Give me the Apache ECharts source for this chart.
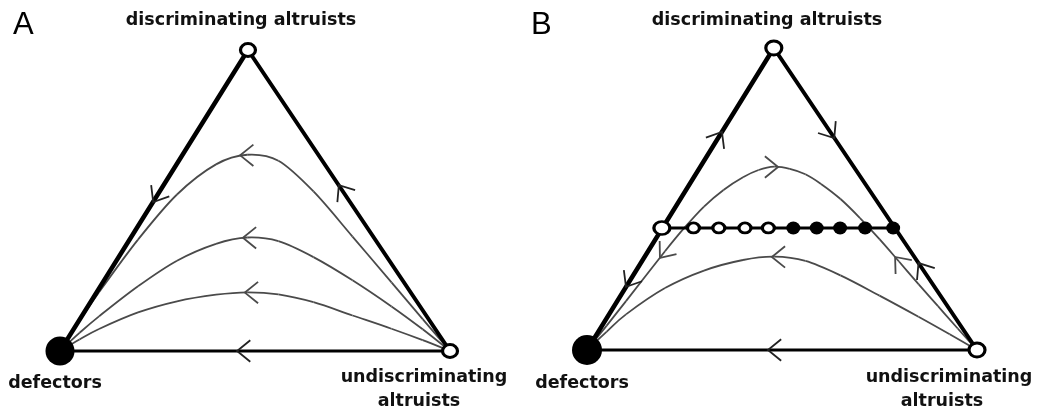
<!DOCTYPE html>
<html><head><meta charset="utf-8">
<script src="https://cdn.jsdelivr.net/npm/echarts@6/dist/echarts.min.js"></script>
<style>html,body{margin:0;padding:0;background:#fff}#c{width:1038px;height:411px}</style>
</head><body><div id="c"></div>
<script>
// ---------------- data (simplex coordinates: x across base, y = height) ----------------
const panelLetters = ['A', 'B'];
const topLabel = 'discriminating altruists';
const leftLabel = 'defectors';
const rightLabelLines = ['undiscriminating', 'altruists'];

const defectorsPt = [0, 0];
const undiscPt = [1, 0];
const apexA = [0.482, 1];
const apexB = [0.479, 1];

// Panel A trajectories (from defectors corner to undiscriminating corner)
const curveA1 = [[0,0],[0.05,0.10],[0.1,0.195],[0.2,0.37],[0.3,0.52],[0.4,0.62],[0.48,0.652],[0.56,0.632],[0.65,0.53],[0.75,0.38],[0.85,0.228],[0.93,0.106],[1,0]];
const curveA2 = [[0,0],[0.05,0.06],[0.1,0.115],[0.2,0.215],[0.3,0.30],[0.4,0.356],[0.48,0.377],[0.56,0.365],[0.65,0.312],[0.75,0.235],[0.85,0.148],[0.93,0.072],[1,0]];
const curveA3 = [[0,0],[0.05,0.038],[0.1,0.073],[0.2,0.128],[0.3,0.165],[0.4,0.187],[0.48,0.195],[0.56,0.188],[0.65,0.162],[0.75,0.118],[0.85,0.074],[0.93,0.036],[1,0]];

// Panel B trajectories
const curveB1 = [[0,0],[0.05,0.08],[0.1,0.162],[0.2,0.327],[0.25,0.405],[0.3,0.475],[0.35,0.53],[0.4,0.572],[0.44,0.596],[0.48,0.607],[0.52,0.600],[0.56,0.582],[0.6,0.55],[0.65,0.5],[0.7,0.437],[0.75,0.367],[0.8,0.293],[0.85,0.218],[0.9,0.145],[0.95,0.072],[1,0]];
const curveB2 = [[0,0],[0.05,0.06],[0.1,0.118],[0.2,0.205],[0.3,0.263],[0.4,0.298],[0.48,0.309],[0.56,0.295],[0.65,0.247],[0.75,0.18],[0.85,0.11],[0.93,0.052],[1,0]];

// Panel B line of rest points
const restLevel = 0.404;
const restLineX = [0.1935, 0.7895];
const restOpenX = [0.192, 0.273, 0.338, 0.405, 0.465];
const restFilledX = [0.529, 0.589, 0.649, 0.713, 0.785];

// Arrows: [tipX, tipY, towardX, towardY]
const arrowsACurves = [[0.462,0.650,0.3,0.650],[0.469,0.376,0.3,0.376],[0.474,0.194,0.3,0.194]];
const arrowsAEdges = [[0.454,0,0,0],[0.239,0.495,0,0],[0.715,0.551,0.482,1]];
const arrowsBCurves = [[0.490,0.606,0.7,0.606],[0.187,0.305,0.110,0.178],[0.790,0.308,0.721,0.412],[0.474,0.308,0.3,0.308]];
const arrowsBEdges = [[0.464,0,0,0],[0.346,0.722,0.479,1],[0.634,0.702,1,0],[0.100,0.209,0,0],[0.850,0.288,0.479,1]];

// ---------------- chart ----------------
const chart = echarts.init(document.getElementById('c'), null, {renderer: 'canvas'});

function edge(gi, a, b, w) {
  return {type: 'line', xAxisIndex: gi, yAxisIndex: gi, data: [a, b], symbol: 'none', clip: false,
    silent: true, z: 3, lineStyle: {color: '#000', width: w, cap: 'round'}};
}
// smooth trajectory through the read points (Catmull-Rom -> cubic Bezier, in pixel space)
function curve(gi, pts) {
  return {type: 'custom', xAxisIndex: gi, yAxisIndex: gi, data: pts, clip: false, silent: true, z: 2,
    renderItem: function (params, api) {
      if (params.dataIndex !== 0) return null;
      const P = pts.map(p => api.coord(p));
      const kids = [];
      for (let i = 0; i < P.length - 1; i++) {
        const p0 = P[i - 1] || P[i], p1 = P[i], p2 = P[i + 1], p3 = P[i + 2] || P[i + 1];
        kids.push({type: 'bezierCurve', shape: {
          x1: p1[0], y1: p1[1], x2: p2[0], y2: p2[1],
          cpx1: p1[0] + (p2[0] - p0[0]) / 6, cpy1: p1[1] + (p2[1] - p0[1]) / 6,
          cpx2: p2[0] - (p3[0] - p1[0]) / 6, cpy2: p2[1] - (p3[1] - p1[1]) / 6},
          style: {stroke: '#4a4a4a', lineWidth: 1.8, fill: null}});
      }
      return {type: 'group', children: kids};
    }};
}
function arrows(gi, data, color) {
  return {type: 'custom', xAxisIndex: gi, yAxisIndex: gi, data: data, clip: false, silent: true, z: 4,
    renderItem: function (params, api) {
      const tip = api.coord([api.value(0), api.value(1)]);
      const to = api.coord([api.value(2), api.value(3)]);
      const ang = Math.atan2(to[1] - tip[1], to[0] - tip[0]);
      const back = ang + Math.PI, L = 17, a = 0.68;
      const p1 = [tip[0] + L * Math.cos(back + a), tip[1] + L * Math.sin(back + a)];
      const p2 = [tip[0] + L * Math.cos(back - a), tip[1] + L * Math.sin(back - a)];
      return {type: 'polyline', shape: {points: [p1, tip, p2]},
        style: {stroke: color, lineWidth: 1.8, fill: null}};
    }};
}
function markers(gi, pts, size, filled, bw) {
  return {type: 'scatter', xAxisIndex: gi, yAxisIndex: gi, data: pts, symbol: 'circle', symbolSize: size,
    clip: false, silent: true, z: 6,
    itemStyle: {color: filled ? '#000' : '#fff', borderColor: '#000', borderWidth: filled ? 0 : bw, opacity: 1}};
}

const series = [
  curve(0, curveA1), curve(0, curveA2), curve(0, curveA3),
  edge(0, defectorsPt, apexA, 4.5), edge(0, apexA, undiscPt, 4), edge(0, defectorsPt, undiscPt, 3.2),
  arrows(0, arrowsACurves, '#4a4a4a'), arrows(0, arrowsAEdges, '#222'),
  markers(0, [apexA, undiscPt], [15, 13], false, 3),
  markers(0, [defectorsPt], 29, true, 0),

  curve(1, curveB1), curve(1, curveB2),
  edge(1, defectorsPt, apexB, 4.5), edge(1, apexB, undiscPt, 4), edge(1, defectorsPt, undiscPt, 3.2),
  edge(1, [restLineX[0], restLevel], [restLineX[1], restLevel], 3),
  arrows(1, arrowsBCurves, '#4a4a4a'), arrows(1, arrowsBEdges, '#222'),
  markers(1, [apexB, undiscPt], [16, 14], false, 3),
  markers(1, [defectorsPt], 30, true, 0),
  markers(1, [[restOpenX[0], restLevel]], [16, 13], false, 3),
  markers(1, restOpenX.slice(1).map(x => [x, restLevel]), [12, 10], false, 3),
  markers(1, restFilledX.map(x => [x, restLevel]), [14, 13], true, 0)
];

const labelFont = 'bold 17.5px "DejaVu Sans"';
const letterFont = '31px "Liberation Sans"';
const graphic = [];
// [panel, letterX, topLabelX, defectorsX, line1X, line2X]
[[0, 13, 241, 55, 424, 419], [1, 531, 767, 582, 949, 942]].forEach(function (p) {
  const [i, lx, tx, dx, ux1, ux2] = p;
  graphic.push({type: 'text', x: lx, y: 25, style: {text: panelLetters[i], font: letterFont, fill: '#000', align: 'left', verticalAlign: 'middle'}});
  graphic.push({type: 'text', x: tx, y: 20, style: {text: topLabel, font: labelFont, fill: '#111', align: 'center', verticalAlign: 'middle'}});
  graphic.push({type: 'text', x: dx, y: 383, style: {text: leftLabel, font: labelFont, fill: '#111', align: 'center', verticalAlign: 'middle'}});
  graphic.push({type: 'text', x: ux1, y: 377, style: {text: rightLabelLines[0], font: labelFont, fill: '#111', align: 'center', verticalAlign: 'middle'}});
  graphic.push({type: 'text', x: ux2, y: 401, style: {text: rightLabelLines[1], font: labelFont, fill: '#111', align: 'center', verticalAlign: 'middle'}});
});

chart.setOption({
  animation: false,
  backgroundColor: '#fff',
  grid: [
    {left: 60, top: 50, width: 390, height: 301},
    {left: 587, top: 48, width: 390, height: 302}
  ],
  xAxis: [
    {gridIndex: 0, type: 'value', min: 0, max: 1, show: false},
    {gridIndex: 1, type: 'value', min: 0, max: 1, show: false}
  ],
  yAxis: [
    {gridIndex: 0, type: 'value', min: 0, max: 1, show: false},
    {gridIndex: 1, type: 'value', min: 0, max: 1, show: false}
  ],
  series: series,
  graphic: graphic
});
</script></body></html>
